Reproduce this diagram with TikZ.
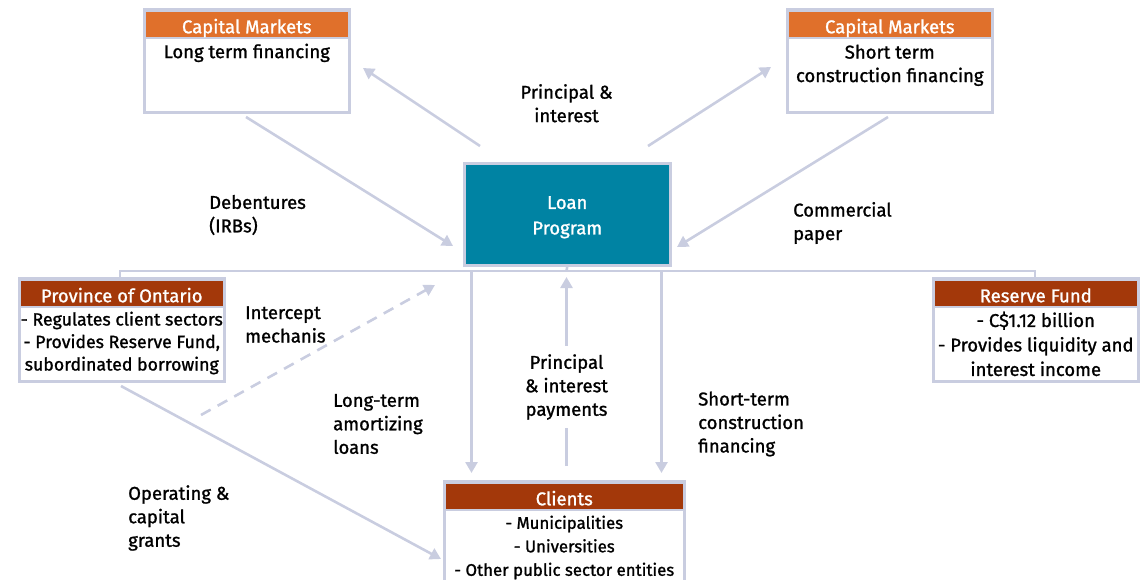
\documentclass[tikz,border=0pt]{standalone}
\usepackage{fontspec}
\setmainfont{Fira Sans}[UprightFeatures={FakeBold=1.2}]
\usetikzlibrary{arrows.meta}
\definecolor{linec}{HTML}{C9CDE0}
\definecolor{orangeh}{HTML}{E0702B}
\definecolor{rusth}{HTML}{A3380A}
\definecolor{tealc}{HTML}{0083A3}
\begin{document}
\begin{tikzpicture}[x=1pt,y=-1pt,
  every node/.style={font=\fontsize{18.5}{23.5}\selectfont, inner sep=0pt},
  frame/.style={draw=linec, line width=2.5pt, fill=white, anchor=north west},
  hdr/.style={draw=linec, line width=1.5pt, anchor=north, text=white,
              minimum height=27pt, text height=18pt, text depth=0pt},
  body/.style={anchor=north, align=center, text=black},
  lbl/.style={align=left, anchor=west},
  flow/.style={draw=linec, line width=2.6pt, -{Triangle[length=11pt,width=12pt]}},
  bus/.style={draw=linec, line width=2.6pt}
]
\useasboundingbox (0,0) rectangle (1148,579);

% ---- top left: Capital Markets (long term)
\node[frame, minimum width=205pt, minimum height=103pt] (cmL) at (143,8) {};
\node[hdr, fill=orangeh, minimum width=203pt] (cmLh) at ([yshift=-2pt]cmL.north) {Capital Markets};
\node[body] (cmLb) at ([yshift=-5pt]cmLh.south) {Long term financing};

% ---- top right: Capital Markets (short term)
\node[frame, minimum width=205pt, minimum height=103pt] (cmR) at (786,8) {};
\node[hdr, fill=orangeh, minimum width=203pt] (cmRh) at ([yshift=-2pt]cmR.north) {Capital Markets};
\node[body] (cmRb) at ([yshift=-6pt]cmRh.south) {Short term\\construction financing};

% ---- centre: Loan Program
\node[draw=linec, line width=2.5pt, fill=tealc,
      minimum width=206pt, minimum height=102pt, anchor=north west] (loan) at (463,162) {};
\node[text=white, align=center] (loanT) at ([yshift=-3pt]loan.center) {Loan\\[2pt]Program};

% ---- Province of Ontario
\node[frame, minimum width=205pt, minimum height=103pt] (prov) at (18,277) {};
\node[hdr, fill=rusth, minimum width=203pt] (provh) at ([yshift=-2pt]prov.north) {Province of Ontario};
\node[body, font=\fontsize{17.7}{22.5}\selectfont] (provb) at ([yshift=-4pt]provh.south)
  {- Regulates client sectors\\- Provides Reserve Fund,\\subordinated borrowing};

% ---- Reserve Fund
\node[frame, minimum width=205pt, minimum height=103pt] (res) at (932,277) {};
\node[hdr, fill=rusth, minimum width=203pt] (resh) at ([yshift=-2pt]res.north) {Reserve Fund};
\node[body, font=\fontsize{18.5}{24.5}\selectfont] (resb) at ([yshift=-4pt]resh.south)
  {- C\$1.12 billion\\- Provides liquidity and\\interest income};

% ---- Clients
\node[frame, minimum width=240pt, minimum height=120pt] (cli) at (443,480) {};
\node[hdr, fill=rusth, minimum width=238pt] (clih) at ([yshift=-2pt]cli.north) {Clients};
\node[body, font=\fontsize{16.8}{23.5}\selectfont] (clib) at ([yshift=-5pt]clih.south)
  {- Municipalities\\- Universities\\- Other public sector entities};

% ---- connector end points
\coordinate (debS) at (246,117);  \coordinate (debE) at (453,246);
\coordinate (piLS) at (480,146);  \coordinate (piLE) at (363,68);
\coordinate (piRS) at (648,146);  \coordinate (piRE) at (771,67);
\coordinate (cpS)  at (888,117);  \coordinate (cpE)  at (677,247);
\coordinate (intS) at (201,415);  \coordinate (intE) at (435,285);
\coordinate (grS)  at (121,386);  \coordinate (grE)  at (441,559);
\coordinate (busL) at (120,271);  \coordinate (busR) at (1035,271);
\coordinate (busM) at (566.5,271);
\coordinate (ltT)  at (471.5,271); \coordinate (ltB) at (471.5,473);
\coordinate (stT)  at (661.5,271); \coordinate (stB) at (661.5,473);
\coordinate (piB)  at (566.5,466); \coordinate (piT) at (566.5,277);

% ---- connectors
\draw[flow] (debS) -- (debE);
\draw[flow] (piLS) -- (piLE);
\draw[flow] (piRS) -- (piRE);
\draw[flow] (cpS) -- (cpE);
\draw[flow, dashed, dash pattern=on 11pt off 8pt] (intS) -- (intE);
\draw[flow] (grS) -- (grE);

\draw[bus] (prov.north -| busL) -- (busL) -- (busR) -- (res.north -| busR);
\draw[bus] (loan.south) -- (busM);
\draw[flow] (ltT) -- (ltB);
\draw[flow] (stT) -- (stB);
\draw[flow] (piB) -- (piT);

% ---- labels
\node[align=center, anchor=north] (lPI) at (566.5,84) {Principal \&\\interest};
\node[lbl] (lDeb) at (209,215) {Debentures\\(IRBs)};
\node[lbl] (lCP) at (793,223) {Commercial\\paper};
\node[lbl] (lInt) at (245,324.5) {Intercept\\mechanis};
\node[lbl] (lLT) at (333,424) {Long-term\\amortizing\\loans};
\node[align=center, fill=white, inner ysep=8pt, inner xsep=2pt] (lPIP) at (566.5,387) {Principal\\\& interest\\payments};
\node[lbl] (lST) at (698,424) {Short-term\\construction\\financing};
\node[lbl] (lOG) at (128,518) {Operating \&\\capital\\grants};
\end{tikzpicture}
\end{document}
